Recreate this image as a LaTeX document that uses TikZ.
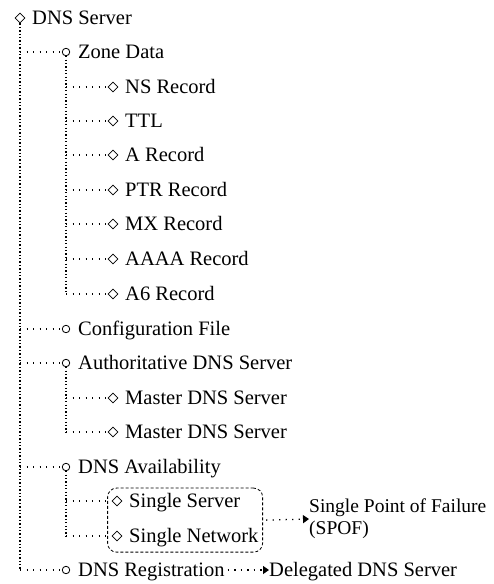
\documentclass[tikz,border=0pt]{standalone}
\usepackage{fontspec}
\setmainfont{Liberation Serif}
\newfontfamily\treefont{Liberation Serif}
\usetikzlibrary{shapes.geometric,arrows.meta,fit}
\begin{document}
\begin{tikzpicture}[x=1pt,y=-1pt,
  dia/.style={draw,diamond,minimum size=10pt,inner sep=0pt,line width=0.8pt},
  circ/.style={draw,circle,minimum size=7.5pt,inner sep=0pt,line width=0.8pt},
  lbl/.style={anchor=base west,inner sep=0pt,font=\treefont\fontsize{20.5}{22}\selectfont},
  vdots/.style={line width=1.3pt,dash pattern=on 1.3pt off 2.1pt},
  hdots/.style={line width=1.3pt,dash pattern=on 1.3pt off 5.2pt},
  arr/.style={hdots,-{Triangle[width=8pt,length=6pt]}},
  grp/.style={draw,dash pattern=on 3pt off 2pt,rounded corners=9pt,line width=0.8pt}]
\useasboundingbox (0,0) rectangle (494,584);

% root
\node[dia] (m0) at (20,18) {};
\node[lbl] (t0) at (32,24.5) {DNS Server};

% first level
\node[circ] (z)  at (66,52)  {}; \node[lbl] (zt)  at (78,58.5)  {Zone Data};
\node[circ] (cf) at (66,329) {}; \node[lbl] (cft) at (78,335.5) {Configuration File};
\node[circ] (au) at (66,363) {}; \node[lbl] (aut) at (78,369.5) {Authoritative DNS Server};
\node[circ] (av) at (66,467) {}; \node[lbl] (avt) at (78,473.5) {DNS Availability};
\node[circ] (rg) at (66,570) {}; \node[lbl] (rgt) at (78,576.5) {DNS Registration};

% zone records
\node[dia] (r1) at (113,87)  {}; \node[lbl] at (125,93.5)  {NS Record};
\node[dia] (r2) at (113,121) {}; \node[lbl] at (125,127.5) {TTL};
\node[dia] (r3) at (113,155) {}; \node[lbl] at (125,161.5) {A Record};
\node[dia] (r4) at (113,190) {}; \node[lbl] at (125,196.5) {PTR Record};
\node[dia] (r5) at (113,224) {}; \node[lbl] at (125,230.5) {MX Record};
\node[dia] (r6) at (113,259) {}; \node[lbl] at (125,265.5) {AAAA Record};
\node[dia] (r7) at (113,294) {}; \node[lbl] at (125,300.5) {A6 Record};

% authoritative servers
\node[dia] (a1) at (113,398) {}; \node[lbl] at (125,404.5) {Master DNS Server};
\node[dia] (a2) at (113,432) {}; \node[lbl] at (125,438.5) {Master DNS Server};

% availability
\node[dia] (s1) at (117,501) {}; \node[lbl] (s1t) at (129,507.5) {Single Server};
\node[dia] (s2) at (117,536) {}; \node[lbl] (s2t) at (129,542.5) {Single Network};
\node[grp, fit=(s1)(s1t)(s2)(s2t), inner xsep=4pt, inner ysep=5pt] (box) {};
\node[anchor=west,inner sep=0pt,align=left,font=\treefont\fontsize{19.5}{22}\selectfont]
  (spof) at (309,519) {Single Point of Failure\\(SPOF)};
\node[lbl] (dl) at (269,576.5) {Delegated DNS Server};

% trunks
\coordinate (tr0) at (m0.south |- rg);
\coordinate (tr1) at (z.south |- r7);
\coordinate (tr2) at (au.south |- a2);
\coordinate (tr3) at (av.south |- s2);
\draw[vdots] (m0.south) -- (tr0);
\draw[vdots] (z.south) -- (tr1);
\draw[vdots] (au.south) -- (tr2);
\draw[vdots] (av.south) -- (tr3);

% branches
\foreach \c in {z,cf,au,av,rg} \draw[hdots] (m0.south |- \c) -- (\c.west);
\foreach \r in {r1,r2,r3,r4,r5,r6,r7} \draw[hdots] (z.south |- \r) -- (\r.west);
\foreach \r in {a1,a2} \draw[hdots] (au.south |- \r) -- (\r.west);
\draw[hdots] (av.south |- s1) -- (box.west |- s1);
\draw[hdots] (av.south |- s2) -- (box.west |- s2);

% outcome arrows
\draw[arr] ([xshift=3pt]box.east) -- (spof.west);
\draw[arr] ([xshift=3pt]rgt.east |- rg) -- (dl.west |- rg);
\end{tikzpicture}
\end{document}
